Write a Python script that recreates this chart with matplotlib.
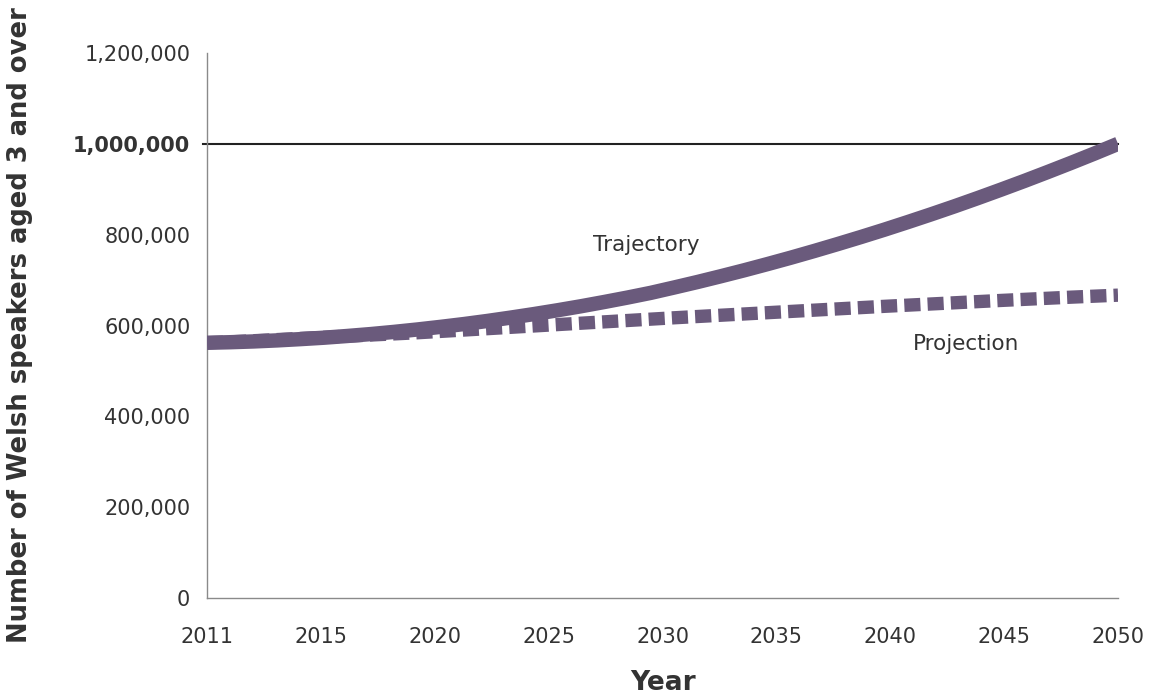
import matplotlib
matplotlib.use("Agg")
import matplotlib.pyplot as plt
import numpy as np

years = list(range(2011, 2051))
trajectory = [562.0, 563.2, 564.9, 567.2, 570.0, 573.1, 576.9, 581.1, 585.9, 591.2,
              597.0, 603.2, 610.0, 617.4, 625.2, 633.5, 642.3, 651.7, 661.5, 671.9,
              683.7, 695.8, 708.5, 721.6, 735.3, 749.4, 764.1, 779.3, 794.9, 811.0,
              827.7, 844.8, 862.4, 880.6, 899.3, 918.4, 938.1, 958.2, 978.8, 1000.0]
projection = [562.0, 564.0, 566.5, 569.0, 571.5, 574.0, 576.5, 579.0, 581.5, 584.0,
              587.0, 590.0, 593.0, 596.0, 599.0, 602.0, 605.0, 608.0, 611.0, 614.0,
              617.0, 619.8, 622.6, 625.4, 628.2, 631.0, 633.8, 636.6, 639.4, 642.2,
              644.8, 647.4, 650.0, 652.6, 655.2, 657.6, 660.0, 662.4, 664.6, 666.8]
tick_labels = ["2011", "2015", "2020", "2025", "2030", "2035", "2040", "2045", "2050"]
y_ticks = [0, 200000, 400000, 600000, 800000, 1000000, 1200000]
target = 1000000

color = "#6a5a7c"
text_color = "#333333"

plt.rcParams['font.family'] = ['DejaVu Sans']
plt.rcParams['lines.scale_dashes'] = False

fig = plt.figure(figsize=(11.62, 6.95), dpi=100)
ax = fig.add_axes([207/1162, 1-598/695, (1118-207)/1162, (598-53)/695])

x = np.arange(len(years))
traj = np.array(trajectory) * 1000
proj = np.array(projection) * 1000

ax.axhline(target, xmin=-0.004, xmax=1.0, color="#222222", lw=1.5, zorder=1, clip_on=False)
ax.plot(x, proj, color=color, lw=9.6, solid_capstyle='butt', dash_capstyle='butt',
        dashes=(11.6, 5.16), zorder=2)
ax.plot(x, traj, color=color, lw=10.4, solid_capstyle='butt', zorder=3)

ax.set_xlim(0, len(years) - 1)
ax.set_ylim(0, 1200000)

ax.set_xticks(np.linspace(0, len(years) - 1, len(tick_labels)))
ax.set_xticklabels(tick_labels)
ax.set_yticks(y_ticks)
ax.set_yticklabels([f"{v:,}" for v in y_ticks])
for lbl in ax.get_yticklabels():
    if lbl.get_text() == "1,000,000":
        lbl.set_fontweight('bold')
ax.tick_params(axis='both', length=0, labelsize=15, labelcolor=text_color)
ax.tick_params(axis='x', pad=21)
ax.tick_params(axis='y', pad=12)

for s in ['top', 'right']:
    ax.spines[s].set_visible(False)
for s in ['left', 'bottom']:
    ax.spines[s].set_color('#8a8a8a')
    ax.spines[s].set_linewidth(1.0)

ax.text(18.8, 777000, "Trajectory", fontsize=15.5, color=text_color, ha='center', va='center')
ax.text(32.5, 559000, "Projection", fontsize=15.5, color=text_color, ha='center', va='center')

fig.text(20/1162, 1-643/695, "Number of Welsh speakers aged 3 and over", rotation=90,
         fontsize=18.6, fontweight='bold', color=text_color, ha='center', va='bottom')
fig.text(663/1162, 1-683/695, "Year", fontsize=19, fontweight='bold', color=text_color,
         ha='center', va='center')

fig.savefig("out.png", dpi=100)
